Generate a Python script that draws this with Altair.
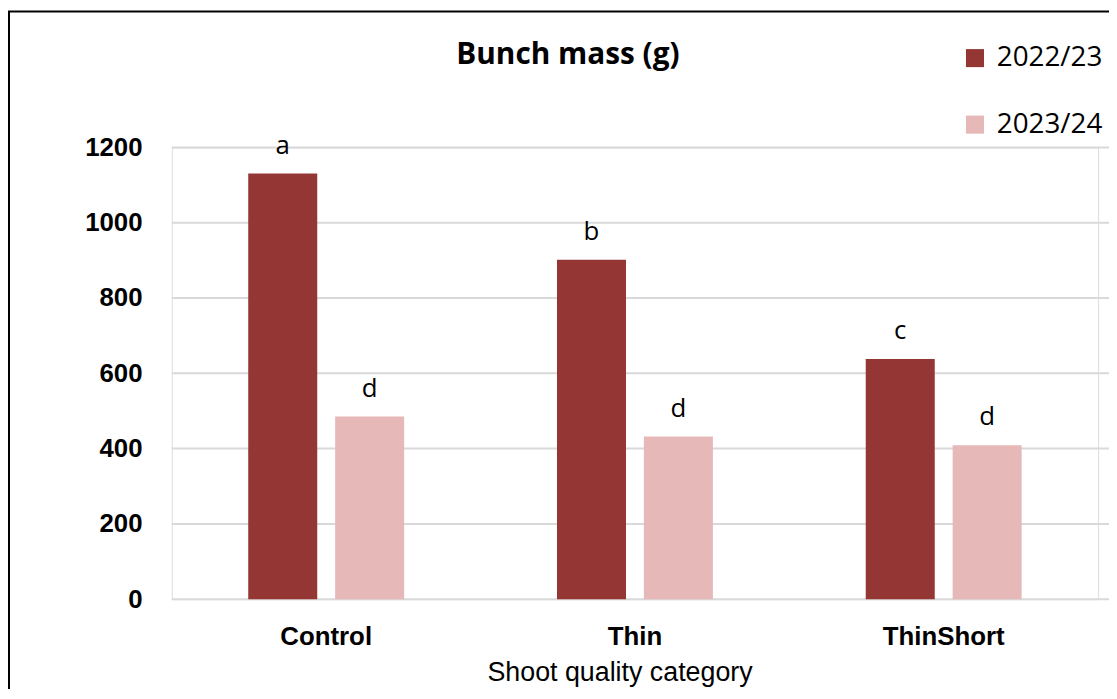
import altair as alt
import pandas as pd

categories = ["Control", "Thin", "ThinShort"]
seasons = ["2022/23", "2023/24"]
values_2022 = [1131, 902, 638]
values_2023 = [485, 432, 409]
letters_2022 = ["a", "b", "c"]
letters_2023 = ["d", "d", "d"]
y_ticks = [0, 200, 400, 600, 800, 1000, 1200]
colors = ["#943634", "#E6B9B8"]
chart_title = "Bunch mass (g)"

rows = []
for i, c in enumerate(categories):
    rows.append({"cat": c, "season": seasons[0], "value": values_2022[i], "letter": letters_2022[i]})
    rows.append({"cat": c, "season": seasons[1], "value": values_2023[i], "letter": letters_2023[i]})
df = pd.DataFrame(rows)
grid_df = pd.DataFrame({"value": y_ticks})

narrow = "Liberation Sans Narrow, Arial Narrow, Liberation Sans"
x_enc = alt.X("cat:N", sort=categories,
              scale=alt.Scale(paddingInner=0.495, paddingOuter=0.2475),
              axis=alt.Axis(title="Shoot quality category", labelAngle=0,
                            labelFont=narrow, labelFontWeight="bold", labelFontSize=26,
                            labelColor="#000", labelPadding=25, ticks=False, domain=False,
                            titleFont=narrow, titleFontWeight="normal", titleFontSize=27,
                            titleColor="#000", titlePadding=10, titleX=451))
xoff = alt.XOffset("season:N", sort=seasons, scale=alt.Scale(paddingInner=0.206, paddingOuter=0))
y_enc = alt.Y("value:Q", scale=alt.Scale(domain=[0, 1200]),
              axis=alt.Axis(title=None, values=y_ticks, format="d", labelFont=narrow,
                            labelFontWeight="bold", labelFontSize=26, labelColor="#000",
                            labelPadding=30, ticks=False, domain=False, grid=False))

grid = alt.Chart(grid_df).mark_rule(color="#D9D9D9", strokeWidth=2).encode(
    y="value:Q", x=alt.value(0), x2=alt.value(944))

bars = alt.Chart(df).mark_bar().encode(
    x=x_enc, xOffset=xoff, y=y_enc,
    color=alt.Color("season:N", sort=seasons,
                    scale=alt.Scale(domain=seasons, range=colors),
                    legend=alt.Legend(title=None, orient="none", legendX=795, legendY=-104,
                                      symbolType="square", symbolSize=330, symbolStrokeWidth=0,
                                      labelFont="Open Sans", labelFontSize=28, labelColor="#000",
                                      labelOffset=8, rowPadding=39, labelLimit=300)),
)

labels = alt.Chart(df).mark_text(font="Open Sans", fontSize=26, color="#000",
                                 baseline="alphabetic", dy=-20).encode(
    x=alt.X("cat:N", sort=categories), xOffset=xoff, y="value:Q", text="letter:N")

one = alt.Data(values=[{"t": chart_title}])
title_mark = alt.Chart(one).mark_text(font="Open Sans", fontSize=30, fontWeight="bold", color="#000",
                                      align="center", baseline="alphabetic").encode(
    x=alt.value(399), y=alt.value(-84), text="t:N")

left_border = alt.Chart(one).mark_rule(color="#000", strokeWidth=2).encode(
    x=alt.value(-164), y=alt.value(-137), y2=alt.value(560))
top_border = alt.Chart(one).mark_rule(color="#000", strokeWidth=2).encode(
    x=alt.value(-165), x2=alt.value(944), y=alt.value(-137))

chart = alt.layer(grid, bars, labels, title_mark, left_border, top_border).properties(
    width=933, height=455,
    padding={"left": 165, "top": 138, "right": 11, "bottom": 88},
    autosize=alt.AutoSizeParams(type="none"),
).configure_view(stroke=None).configure(background="white")

chart.save("out.html", embed_options={"renderer": "svg", "actions": False})
